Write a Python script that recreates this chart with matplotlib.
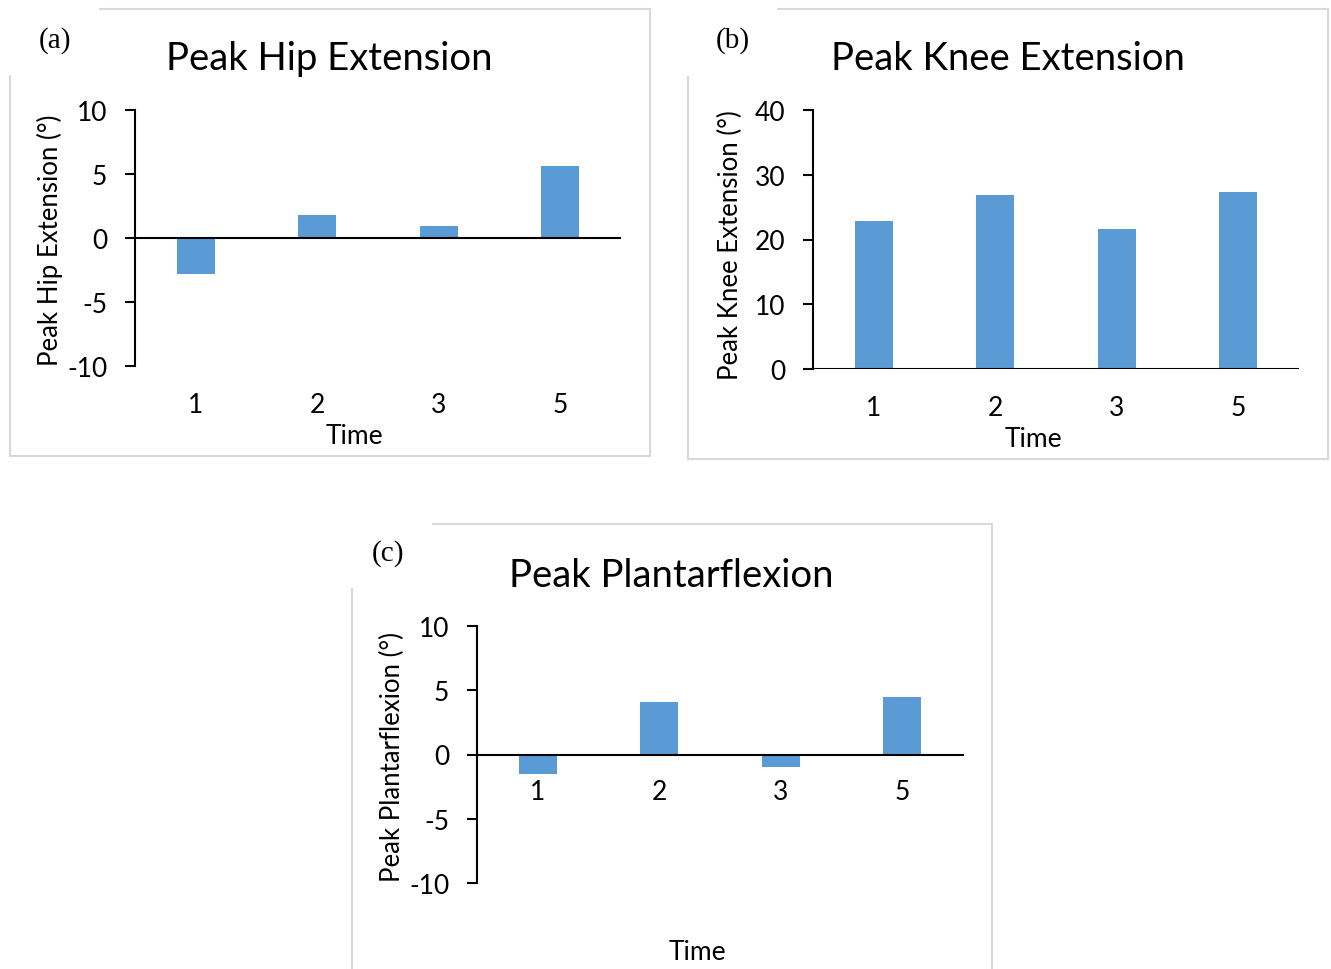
import matplotlib.pyplot as plt
from matplotlib.lines import Line2D

# data
times = ["1", "2", "3", "5"]
hip_ext = [-2.8, 1.8, 0.95, 5.6]
knee_ext = [22.9, 26.9, 21.6, 27.3]
plantarflex = [-1.55, 4.05, -0.95, 4.45]

hip_ticks = [-10, -5, 0, 5, 10]
knee_ticks = [0, 10, 20, 30, 40]
plantar_ticks = [-10, -5, 0, 5, 10]

W, H = 1331, 970
bar_color = "#5B9BD5"
frame_color = "#D9D9D9"
font = "Lato"

plt.rcParams["font.family"] = [font, "DejaVu Sans"]
plt.rcParams["axes.unicode_minus"] = False

fig = plt.figure(figsize=(W / 100, H / 100), dpi=100)


def fx(x):
    return x / W


def fy(y):
    return 1 - y / H


def frame(x0, y0, x1, y1, top_start, left_start):
    # light grey chart-area border, with the corner left open for the panel letter
    segs = [
        ([top_start, x1], [y0, y0]),
        ([x1, x1], [y0, y1]),
        ([x0, x1], [y1, y1]),
        ([x0, x0], [left_start, y1]),
    ]
    for xs, ys in segs:
        fig.add_artist(Line2D([fx(v) for v in xs], [fy(v) for v in ys],
                              transform=fig.transFigure, color=frame_color, lw=1.5))


def panel(rect, values, ticks, ylabel, title, title_xy, letter, letter_xy,
          ylabel_xy, time_xy, labels_at_zero):
    x0, y0, x1, y1 = rect
    ax = fig.add_axes([fx(x0), fy(y1), fx(x1) - fx(x0), fy(y0) - fy(y1)])
    ax.bar(range(len(times)), values, width=0.31, color=bar_color, zorder=2)
    ax.set_xlim(-0.5, len(times) - 0.5)
    ax.set_ylim(ticks[0], ticks[-1])
    ax.set_yticks(ticks)
    ax.set_xticks(range(len(times)))
    ax.set_xticklabels(times)
    for s in ["top", "right"]:
        ax.spines[s].set_visible(False)
    ax.spines["left"].set_linewidth(1.5)
    if labels_at_zero:
        ax.spines["bottom"].set_position(("data", 0))
        ax.spines["bottom"].set_linewidth(1.5)
        ax.tick_params(axis="x", length=0, pad=18, labelsize=19)
    else:
        ax.spines["bottom"].set_visible(False)
        ax.axhline(0, color="black", lw=1.5, zorder=3)
        ax.tick_params(axis="x", length=0, pad=19, labelsize=19)
    ax.tick_params(axis="y", length=7, width=1.5, direction="out", pad=13, labelsize=19)
    ax.patch.set_alpha(0)

    fig.text(fx(title_xy[0]), fy(title_xy[1]), title, ha="center", va="baseline", fontsize=27.5)
    fig.text(fx(letter_xy[0]), fy(letter_xy[1]), letter, ha="center", va="center",
             fontsize=21, family="Liberation Serif")
    fig.text(fx(ylabel_xy[0]), fy(ylabel_xy[1]), ylabel, ha="center", va="center",
             rotation=90, fontsize=18.5)
    fig.text(fx(time_xy[0]), fy(time_xy[1]), "Time", ha="center", va="center", fontsize=19)
    return ax


frame(10, 10, 650, 457, 100, 77)
panel((135, 111, 621, 367), hip_ext, hip_ticks, "Peak Hip Extension (°)",
      "Peak Hip Extension", (329, 70), "(a)", (55, 41), (50, 240), (354, 437), False)

frame(688, 10, 1328, 460, 778, 78)
panel((813, 111, 1299, 370), knee_ext, knee_ticks, "Peak Knee Extension (°)",
      "Peak Knee Extension", (1008, 70), "(b)", (733, 41), (730, 245), (1033, 440), False)

frame(352, 525, 992, 975, 433, 590)
panel((477, 627, 963, 884), plantarflex, plantar_ticks, "Peak Plantarflexion (°)",
      "Peak Plantarflexion", (671, 587), "(c)", (388, 554), (392, 757), (697, 953), True)

fig.savefig("out.png", dpi=100)
